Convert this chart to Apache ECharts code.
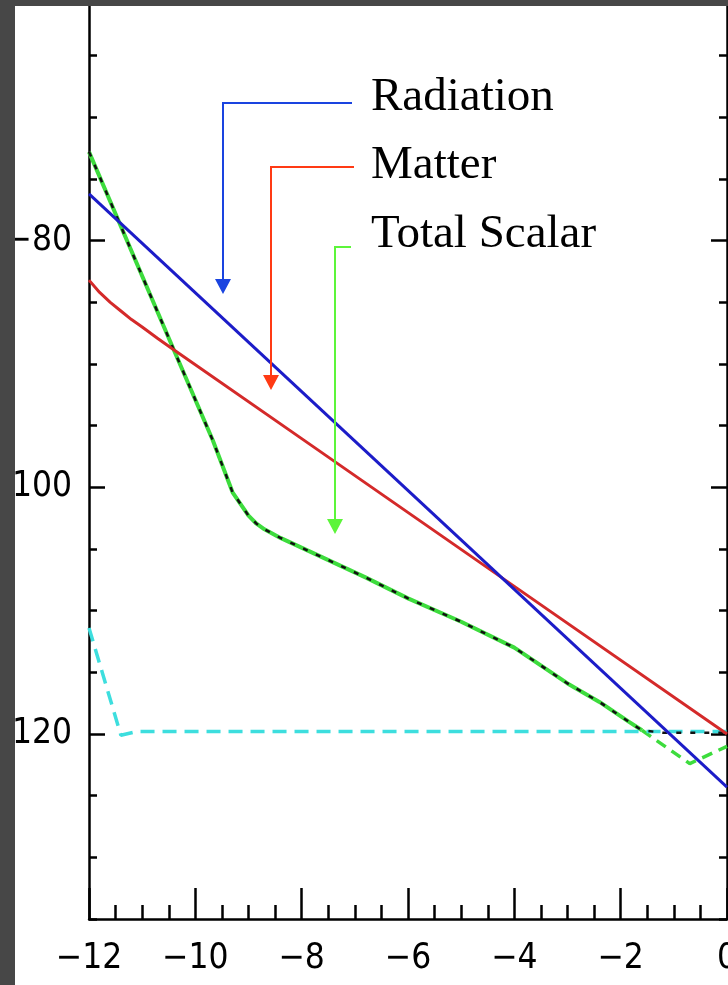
<!DOCTYPE html>
<html>
    <head>
        <meta charset="UTF-8">
        <title>Radiation / Matter / Total Scalar</title>
        <script src="https://cdn.jsdelivr.net/npm/echarts@6/dist/echarts.min.js"></script>
        <style>
            html,body{margin:0;padding:0;width:728px;height:985px;background:#474747;overflow:hidden;}
            #panel{position:absolute;left:15px;top:6px;width:713px;height:979px;background:#fff;overflow:hidden;}
            #chart{position:absolute;left:-15px;top:-6px;width:728px;height:985px;}
        </style>
    </head>
    <body>
        <div id="panel"><div id="chart"></div></div>
        <script type="text/javascript">
          // values
          var radiationX = [-12, 0];
          var radiationY = [-76.2, -124.3];

          var matterX = [-12, -11.8, -11.6, -11.4, -11.2, -11, -10.7, -10.44, -8, -4, 0];
          var matterY = [-83.2, -84.2, -85.0, -85.7, -86.4, -87.0, -87.95, -88.75, -96.05, -108.03, -120];

          // total scalar (green solid part + diverging dashed tail)
          var scalarX = [-12, -10.42, -9.67, -9.3, -9.11, -9.0, -8.85, -8.7, -8.4, -7.7, -6.8, -6, -5, -4, -3, -2.4, -1.85, -1.6];
          var scalarY = [-72.8, -88.7, -96.2, -100.4, -101.6, -102.3, -102.95, -103.4, -104.1, -105.5, -107.3, -109.0, -110.9, -113.0, -115.9, -117.4, -119.0, -119.7];
          var tailX = [-1.6, -0.7, 0];
          var tailY = [-119.7, -122.4, -121.0];

          // black dashed follows the scalar, then goes flat
          var blackX = scalarX.concat([-1.2, 0]);
          var blackY = scalarY.concat([-119.9, -119.9]);

          var cyanX = [-12, -11.4, -11.1, 0];
          var cyanY = [-111.4, -120.1, -119.8, -119.8];

          var yLabels = [-60, -80, -100, -120];

          function pairs(xs, ys){
              var out = [];
              for (var i = 0; i < xs.length; i++) out.push([xs[i], ys[i]]);
              return out;
          }
          function minus(v){ return v < 0 ? '\u2212' + Math.abs(v) : String(v); }

          var axisFont = "'Liberation Sans Narrow', 'DejaVu Sans Condensed', sans-serif";
          var black = {color:'#000', width:2.5};

          function yAxisDef(pos, major){
              var a = {
                  type:'value', position:pos, min:-135, max:-60, interval:5,
                  axisLine:{show:!major, onZero:false, lineStyle:black},
                  splitLine:{show:false},
                  axisTick:{show:true, inside:true, interval:0, length: major ? 16 : 8, lineStyle:black},
                  axisLabel:{show:false}
              };
              if (major) {
                  a.axisTick.customValues = yLabels;
              }
              if (pos === 'left' && !major) {
                  a.axisLabel = {
                      show:true, interval:0, margin:17,
                      fontFamily:axisFont, fontSize:35, color:'#000',
                      formatter:function(v){ return yLabels.indexOf(v) >= 0 ? minus(v) : ''; }
                  };
              }
              return a;
          }

          var chart = echarts.init(document.getElementById('chart'));
          var option = {
              animation:false,
              backgroundColor:'#fff',
              grid:{left:89, right:1, top:-6, bottom:66, containLabel:false, outerBoundsMode:'none'},
              xAxis:{
                  type:'value', min:-12, max:0, interval:2,
                  axisLine:{onZero:false, lineStyle:black},
                  splitLine:{show:false},
                  axisTick:{inside:true, length:31, lineStyle:black},
                  minorTick:{show:true, splitNumber:4, length:14, lineStyle:black},
                  axisLabel:{margin:22, fontFamily:axisFont, fontSize:35, color:'#000', formatter:minus}
              },
              yAxis:[yAxisDef('left', false), yAxisDef('left', true), yAxisDef('right', false), yAxisDef('right', true)],
              series:[
                  {name:'Total Scalar', type:'line', symbol:'none', data:pairs(scalarX, scalarY),
                   lineStyle:{color:'#3ddc3d', width:4}},
                  {name:'Total Scalar tail', type:'line', symbol:'none', data:pairs(tailX, tailY),
                   lineStyle:{color:'#3ddc3d', width:3.5, type:[11,7]}},
                  {name:'Cyan', type:'line', symbol:'none', data:pairs(cyanX, cyanY),
                   lineStyle:{color:'#3ddede', width:3.5, type:[14,8]}},
                  {name:'Black', type:'line', symbol:'none', data:pairs(blackX, blackY),
                   lineStyle:{color:'#111', width:2.5, type:[5,9]}},
                  {name:'Matter', type:'line', symbol:'none', data:pairs(matterX, matterY),
                   lineStyle:{color:'#d42a2a', width:3}},
                  {name:'Radiation', type:'line', symbol:'none', data:pairs(radiationX, radiationY),
                   lineStyle:{color:'#1c1cc8', width:3}}
              ],
              graphic:[
                  // Radiation callout
                  {type:'polyline', shape:{points:[[352,103],[223,103],[223,280]]}, style:{stroke:'#1a44e0', lineWidth:2, fill:null}, z:50},
                  {type:'polygon', shape:{points:[[215,279],[231,279],[223,294]]}, style:{fill:'#1a44e0'}, z:50},
                  {type:'text', left:371, top:74, style:{text:'Radiation', font:"47px 'Liberation Serif', serif", fill:'#000'}, z:50},
                  // Matter callout
                  {type:'polyline', shape:{points:[[354,167],[271,167],[271,376]]}, style:{stroke:'#ff3a14', lineWidth:2, fill:null}, z:50},
                  {type:'polygon', shape:{points:[[263,375],[279,375],[271,390]]}, style:{fill:'#ff3a14'}, z:50},
                  {type:'text', left:371, top:142, style:{text:'Matter', font:"47px 'Liberation Serif', serif", fill:'#000'}, z:50},
                  // Total Scalar callout
                  {type:'polyline', shape:{points:[[351,247],[335,247],[335,520]]}, style:{stroke:'#5cf53a', lineWidth:2, fill:null}, z:50},
                  {type:'polygon', shape:{points:[[327,519],[343,519],[335,534]]}, style:{fill:'#5cf53a'}, z:50},
                  {type:'text', left:371, top:211, style:{text:'Total Scalar', font:"47px 'Liberation Serif', serif", fill:'#000'}, z:50}
              ]
          };
          chart.setOption(option);
        </script>
    </body>
</html>
